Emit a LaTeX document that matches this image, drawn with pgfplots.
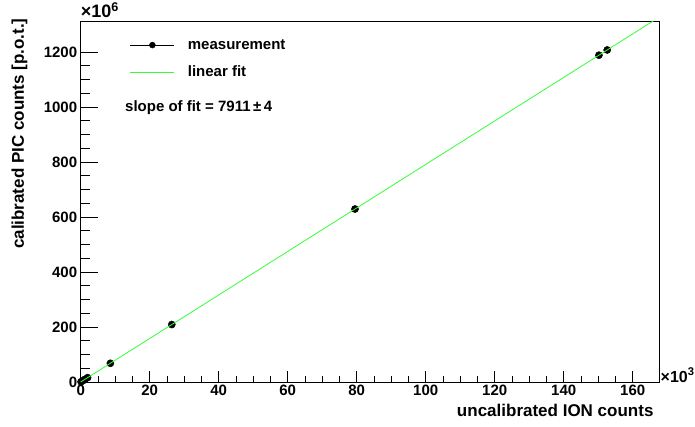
\documentclass[border=0pt]{standalone}
\usepackage{fontspec}
\setmainfont{Liberation Sans}
\usepackage{pgfplots}
\pgfplotsset{compat=1.18}

\definecolor{fitgreen}{rgb}{0.2,1,0.2}

% measured points: uncalibrated ION counts (x10^3) vs calibrated PIC counts (x10^6)
\pgfplotstableread{
x      y
0.1    0.8
0.6    4.7
1.2    9.5
2.0    15.8
8.6    68.0
26.4   208.9
79.5   628.9
150.2  1188.2
152.6  1207.2
}\measured

\begin{document}
\begin{tikzpicture}[x=1pt,y=1pt]
\useasboundingbox (-80.7,-44) rectangle (614.3,382);
\begin{axis}[
  at={(0,0)}, anchor=south west,
  scale only axis, width=578.6pt, height=360.3pt,
  xmin=0, xmax=167.7, ymin=0, ymax=1310,
  xtick={0,20,...,160}, ytick={0,200,...,1200},
  minor x tick num=3, minor y tick num=3,
  tick align=inside,
  xtick pos=bottom, ytick pos=left,
  axis line style={line width=0.8pt},
  tick style={line width=0.6pt, black},
  x tick style={/pgfplots/major tick length=11pt, /pgfplots/minor tick length=6pt},
  y tick style={/pgfplots/major tick length=17pt, /pgfplots/minor tick length=9pt},
  scaled ticks=false,
  /pgf/number format/assume math mode=true,
  /pgf/number format/1000 sep={},
  ticklabel style={font=\bfseries\fontsize{15}{17}\selectfont},
  xticklabel style={yshift=1pt},
  xlabel={uncalibrated ION counts},
  ylabel={calibrated PIC counts [p.o.t.]},
  label style={font=\bfseries\fontsize{17}{19}\selectfont},
  xlabel style={at={(axis description cs:0.996,-0.0944)}, anchor=base east},
  ylabel style={at={(axis description cs:-0.098,1.019)}, anchor=base east},
  legend cell align=left,
  legend style={draw=none, fill=none, at={(axis description cs:0.0795,0.8965)}, anchor=west,
    font=\bfseries\fontsize{15}{17}\selectfont, row sep=13.8pt, column sep=13pt,
    nodes={inner sep=0pt, text height=11pt, text depth=3pt}},
  clip mode=individual,
]
\addplot[only marks, mark=*, mark size=3.6pt, black,
  legend image code/.code={
    \draw[black, line width=0.6pt] (0pt,0pt) -- (44pt,0pt);
    \fill[black] (22pt,0pt) circle (3pt);
  }] table[x=x, y=y] {\measured};
\addlegendentry{measurement}
\addplot[fitgreen, line width=0.8pt,
  legend image code/.code={
    \draw[fitgreen, line width=1pt] (0pt,0pt) -- (44pt,0pt);
  }] coordinates {(0,0) (167.7,1326.7)};
\addlegendentry{linear fit}

\node[anchor=base west, inner sep=0pt, font=\bfseries\fontsize{15}{17}\selectfont]
  at (axis description cs:0.0765,0.7508) {slope of fit = 7911\,±\,4};
\node[anchor=base west, inner sep=0pt, font=\bfseries\fontsize{18}{20}\selectfont]
  at (axis description cs:0,1.0103) {×10\textsuperscript{6}};
\node[anchor=base west, inner sep=0pt, font=\bfseries\fontsize{16}{18}\selectfont]
  at (axis description cs:1.002,0) {×10\textsuperscript{3}};
\end{axis}
\end{tikzpicture}
\end{document}
